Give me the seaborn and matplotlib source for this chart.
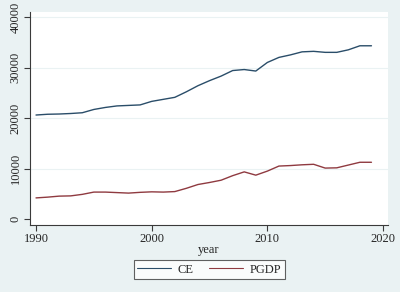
import numpy as np
import pandas as pd
import matplotlib
matplotlib.use("Agg")
import matplotlib.pyplot as plt
import seaborn as sns

years = list(range(1990, 2020))
ce = [20600, 20750, 20800, 20900, 21050, 21700, 22100, 22400, 22500, 22600,
      23300, 23700, 24100, 25200, 26400, 27400, 28300, 29400, 29600, 29300,
      31000, 32000, 32500, 33100, 33200, 33000, 33000, 33500, 34300, 34300]
pgdp = [4200, 4350, 4550, 4600, 4900, 5350, 5350, 5250, 5150, 5300,
        5400, 5350, 5450, 6100, 6850, 7250, 7700, 8600, 9350, 8700,
        9500, 10500, 10600, 10750, 10850, 10100, 10150, 10700, 11250, 11250]
series_names = ["CE", "PGDP"]
x_ticks = [1990, 2000, 2010, 2020]
y_ticks = [0, 10000, 20000, 30000, 40000]

df = pd.DataFrame({
    "year": years * 2,
    "value": ce + pgdp,
    "series": ["CE"] * len(years) + ["PGDP"] * len(years),
})

sns.set_theme(style="white")
plt.rcParams["font.family"] = ["Liberation Serif", "DejaVu Serif"]

bg = "#EAF2F3"
fig = plt.figure(figsize=(4, 2.92), dpi=100, facecolor=bg)
ax = fig.add_axes([0.075, 0.229, 0.895, 0.73])
ax.set_facecolor("white")

sns.lineplot(data=df, x="year", y="value", hue="series", hue_order=series_names,
             palette={"CE": "#2A4D69", "PGDP": "#8F3A40"}, linewidth=1.0, ax=ax)

ax.set_xlim(1989.48, 2020.43)
ax.set_ylim(-1188, 40990)
ax.set_xticks(x_ticks)
ax.set_yticks(y_ticks)
ax.set_yticklabels([str(v) for v in y_ticks], rotation=90, va="center")
for v in y_ticks[1:]:
    ax.axhline(v, color="#EAF2F3", linewidth=0.8, zorder=0)

for s in ["top", "right"]:
    ax.spines[s].set_visible(False)
for s in ["left", "bottom"]:
    ax.spines[s].set_color("#3a3a3a")
    ax.spines[s].set_linewidth(0.8)
ax.tick_params(axis="both", which="major", direction="out", length=4, width=0.8,
               color="#3a3a3a", labelsize=9, pad=2, bottom=True, left=True)
ax.set_xlabel("year", fontsize=9, labelpad=-1)
ax.set_ylabel("")

handles, labels = ax.get_legend_handles_labels()
for h in handles:
    h.set_linewidth(0.8)
leg = ax.legend(handles, labels, loc="center", bbox_to_anchor=(0.523, 0.077),
                bbox_transform=fig.transFigure, ncol=2, frameon=True,
                fontsize=9, fancybox=False, handlelength=2.7, handletextpad=0.55,
                columnspacing=1.2, borderpad=0.3, borderaxespad=0)
leg.get_frame().set_edgecolor("#3a3a3a")
leg.get_frame().set_linewidth(0.8)
leg.get_frame().set_facecolor("white")

fig.savefig("out.png", dpi=100, facecolor=bg)
plt.close(fig)
